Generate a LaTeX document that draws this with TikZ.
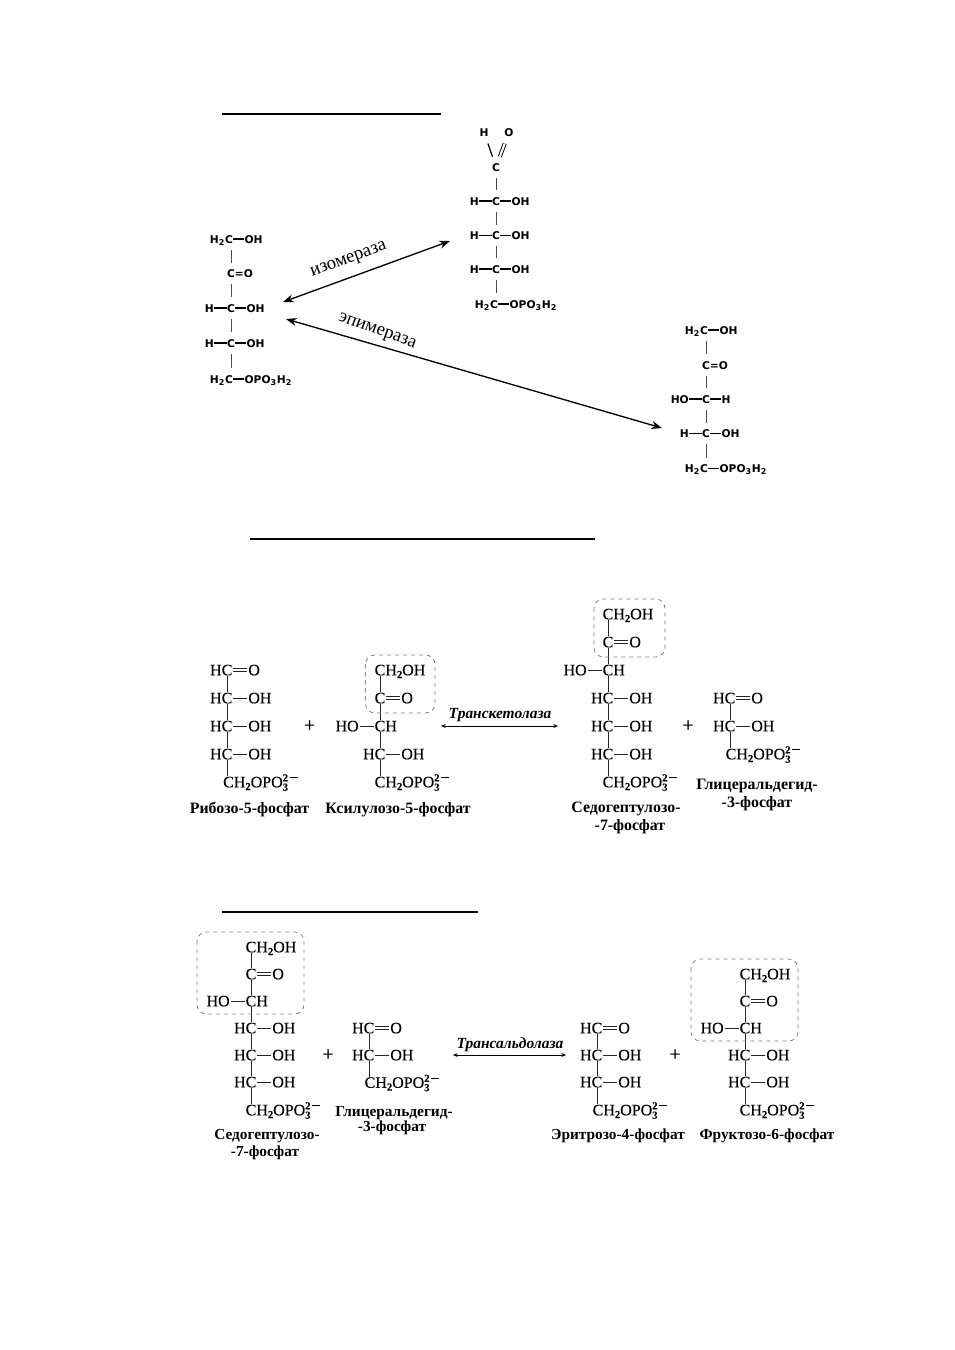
\documentclass[tikz,border=0pt]{standalone}
\usepackage{fontspec}
\setmainfont{Liberation Serif}
\newfontfamily\chemsans{DejaVu Sans}
\newfontfamily\chemserif{Liberation Serif}[FakeBold=0.12]
\usetikzlibrary{positioning,arrows.meta}

\tikzset{
    sanschem/.style={
        node distance=8pt,
        atom/.style={font=\chemsans\bfseries\fontsize{8}{8}\selectfont, inner xsep=.4pt, inner ysep=0pt, outer sep=0pt, text height=6pt, text depth=0pt},
        left atom/.style={xshift=-1.2pt},
        hbond/.style={line width=.8pt},
        vbond/.style={line width=.6pt, black!70, shorten <=8pt, shorten >=8pt},
        dbond/.style={hbond}
    },
    serifchem/.style={
        node distance=10.5pt,
        atom/.style={font=\chemserif\fontsize{12}{12}\selectfont, inner xsep=.75pt, inner ysep=0pt, outer sep=0pt, text height=8pt, text depth=0pt},
        left atom/.style={},
        hbond/.style={line width=.65pt, black!85},
        vbond/.style={line width=.7pt, black!85, shorten <=4.5pt, shorten >=4.5pt},
        dbond/.style={line width=.5pt, black!85, double, double distance=1.4pt}
    },
    enzyme/.style={font=\fontsize{14}{14}\selectfont, inner sep=0pt},
    title line/.style={line width=1.5pt},
    enzyme arrow/.style={{Stealth[length=8pt,width=6pt]}-{Stealth[length=8pt,width=6pt]}, line width=1pt},
    small arrow/.style={{Stealth[length=3.5pt,width=3pt]}-{Stealth[length=3.5pt,width=3pt]}, line width=.7pt},
    step name/.style={font=\bfseries\itshape\fontsize{11.6}{11.6}\selectfont, inner sep=0pt},
    compound/.style={font=\bfseries\fontsize{11.9}{11.9}\selectfont, inner sep=0pt, yshift=-.9pt},
    compound small/.style={compound, font=\bfseries\fontsize{11.5}{11.5}\selectfont},
    plus/.style={font=\chemserif\fontsize{15}{15}\selectfont, inner sep=0pt},
    transfer box/.style={draw=black!50, dashed, line width=.6pt, rounded corners=7pt}
}

% bond to the right or to the left of an atom
\newcommand{\rbond}[3][hbond]{\node[atom, right=of #2] (#2r) {#3}; \draw[#1] (#2) -- (#2r);}
\newcommand{\lbond}[2]{\node[atom, left=of #1, left atom] (#1l) {#2}; \draw[hbond] (#1) -- (#1l);}
% vertical bonds along the column of one atom
\newcommand{\vchain}[2]{\foreach \p/\q in {#2} \draw[vbond] (#1 |- \p) -- (#1 |- \q);}
% small index of the lower formulas
\newcommand{\chsub}[1]{\raisebox{-2pt}{\fontsize{8}{8}\selectfont\bfseries #1}}
% phosphate group of the lower formulas
\newcommand{\opogroup}{C\rlap{H\chsub{2}OPO\rlap{\raisebox{-2.5pt}{\fontsize{8}{8}\selectfont\bfseries 3}}\raisebox{4.5pt}{\fontsize{8}{8}\selectfont\bfseries 2\,\rule[2.4pt]{6pt}{.5pt}}}}

\begin{document}
\begin{tikzpicture}[x=0.75pt, y=-0.75pt]
    \useasboundingbox (0,0) rectangle (954,1350);

    % Title lines
    \coordinate (t1a) at (222,114);
    \coordinate (t1b) at (441,114);
    \coordinate (t2a) at (250,539);
    \coordinate (t2b) at (595,539);
    \coordinate (t3a) at (222,912);
    \coordinate (t3b) at (478,912);
    \draw[title line] (t1a) -- (t1b);
    \draw[title line] (t2a) -- (t2b);
    \draw[title line] (t3a) -- (t3b);

    % Upper formulas
    \begin{scope}[sanschem]
        % Left ketose
        \node[atom] (a1) at (229,239) {\llap{H\textsubscript{2}}C};
        \rbond{a1}{OH}
        \node[atom] (a2) at (231,273.5) {C\rlap{=O}};
        \node[atom] (a3) at (231,308) {C};
        \rbond{a3}{OH}
        \lbond{a3}{H}
        \node[atom] (a4) at (231,343) {C};
        \rbond{a4}{OH}
        \lbond{a4}{H}
        \node[atom] (a5) at (229,379) {\llap{H\textsubscript{2}}C};
        \rbond{a5}{OPO\textsubscript{3}H\textsubscript{2}}
        \vchain{a3}{a1/a2,a2/a3,a3/a4,a4/a5}

        % Upper aldose
        \node[atom] (b0) at (496,167) {C};
        \node[atom] (bh) at (484,132) {H};
        \node[atom] (bo) at (509,132) {O};
        \draw[line width=.9pt, shorten <=6pt, shorten >=5pt] (bh) -- (b0);
        \draw[line width=.7pt, double, double distance=1.6pt, shorten <=6pt, shorten >=5pt] (bo) -- (b0);
        \node[atom] (b1) at (496,201) {C};
        \rbond{b1}{OH}
        \lbond{b1}{H}
        \node[atom] (b2) at (496,235.5) {C};
        \rbond{b2}{OH}
        \lbond{b2}{H}
        \node[atom] (b3) at (496,269) {C};
        \rbond{b3}{OH}
        \lbond{b3}{H}
        \node[atom] (b4) at (494,304) {\llap{H\textsubscript{2}}C};
        \rbond{b4}{OPO\textsubscript{3}H\textsubscript{2}}
        \vchain{b1}{b0/b1,b1/b2,b2/b3,b3/b4}

        % Lower ketose
        \node[atom] (c1) at (704,330) {\llap{H\textsubscript{2}}C};
        \rbond{c1}{OH}
        \node[atom] (c2) at (706,365) {C\rlap{=O}};
        \node[atom] (c3) at (706,399) {C};
        \rbond{c3}{H}
        \lbond{c3}{HO}
        \node[atom] (c4) at (706,433.5) {C};
        \rbond{c4}{OH}
        \lbond{c4}{H}
        \node[atom] (c5) at (704,468.5) {\llap{H\textsubscript{2}}C};
        \rbond{c5}{OPO\textsubscript{3}H\textsubscript{2}}
        \vchain{c4}{c1/c2,c2/c3,c3/c4,c4/c5}
    \end{scope}

    % Enzyme arrows
    \coordinate (iso1) at (283,302);
    \coordinate (iso2) at (450,241);
    \coordinate (epi1) at (286,319);
    \coordinate (epi2) at (662,428);
    \draw[enzyme arrow] (iso1) -- (iso2);
    \draw[enzyme arrow] (epi1) -- (epi2);
    \node[enzyme, rotate=20] (iso) at (349,260.5) {изомераза};
    \node[enzyme, rotate=-20] (epi) at (377,332) {эпимераза};

    % Transketolase reaction
    \begin{scope}[serifchem]
        % Ribose phosphate
        \node[atom] (r1) at (227,670) {\llap{H}C};
        \rbond[dbond]{r1}{O}
        \node[atom] (r2) at (227,698) {\llap{H}C};
        \rbond{r2}{OH}
        \node[atom] (r3) at (227,726) {\llap{H}C};
        \rbond{r3}{OH}
        \node[atom] (r4) at (227,754) {\llap{H}C};
        \rbond{r4}{OH}
        \node[atom] (r5) at (228.5,782) {\opogroup};
        \vchain{r1}{r1/r2,r2/r3,r3/r4,r4/r5}

        % Xylulose phosphate
        \node[atom] (x1) at (380,670) {C\rlap{H\chsub{2}OH}};
        \node[atom] (x2) at (380,698) {C};
        \rbond[dbond]{x2}{O}
        \node[atom] (x3) at (380,726) {C\rlap{H}};
        \lbond{x3}{HO}
        \node[atom] (x4) at (380,754) {\llap{H}C};
        \rbond{x4}{OH}
        \node[atom] (x5) at (380,782) {\opogroup};
        \vchain{x1}{x1/x2,x2/x3,x3/x4,x4/x5}

        % Sedoheptulose phosphate
        \node[atom] (s1) at (608,614) {C\rlap{H\chsub{2}OH}};
        \node[atom] (s2) at (608,642) {C};
        \rbond[dbond]{s2}{O}
        \node[atom] (s3) at (608,670) {C\rlap{H}};
        \lbond{s3}{HO}
        \node[atom] (s4) at (608,698) {\llap{H}C};
        \rbond{s4}{OH}
        \node[atom] (s5) at (608,726) {\llap{H}C};
        \rbond{s5}{OH}
        \node[atom] (s6) at (608,754) {\llap{H}C};
        \rbond{s6}{OH}
        \node[atom] (s7) at (608,782) {\opogroup};
        \vchain{s1}{s1/s2,s2/s3,s3/s4,s4/s5,s5/s6,s6/s7}

        % Glyceraldehyde phosphate
        \node[atom] (g1) at (730,698) {\llap{H}C};
        \rbond[dbond]{g1}{O}
        \node[atom] (g2) at (730,726) {\llap{H}C};
        \rbond{g2}{OH}
        \node[atom] (g3) at (731,754) {\opogroup};
        \vchain{g1}{g1/g2,g2/g3}
    \end{scope}

    \node[plus] (p1) at (309.5,726) {+};
    \node[plus] (p2) at (688,726) {+};
    \coordinate (k1) at (441,726);
    \coordinate (k2) at (558,726);
    \draw[small arrow] (k1) -- (k2);
    \node[step name] (ketolase) at (500,715) {Транскетолаза};
    \node[compound] (rn) at (249.5,808) {Рибозо-5-фосфат};
    \node[compound] (xn) at (398,808) {Ксилулозо-5-фосфат};
    \node[compound] (sn1) at (626,808) {Седогептулозо-};
    \node[compound] (sn2) at (630,825) {-7-фосфат};
    \node[compound] (gn1) at (757,785) {Глицеральдегид-};
    \node[compound] (gn2) at (757,802) {-3-фосфат};
    \draw[transfer box] (365.5,655) rectangle (435,713);
    \draw[transfer box] (594,599) rectangle (665,657);

    % Transaldolase reaction
    \begin{scope}[serifchem]
        % Sedoheptulose phosphate
        \node[atom] (d1) at (251,947) {C\rlap{H\chsub{2}OH}};
        \node[atom] (d2) at (251,974) {C};
        \rbond[dbond]{d2}{O}
        \node[atom] (d3) at (251,1001) {C\rlap{H}};
        \lbond{d3}{HO}
        \node[atom] (d4) at (251,1028) {\llap{H}C};
        \rbond{d4}{OH}
        \node[atom] (d5) at (251,1055) {\llap{H}C};
        \rbond{d5}{OH}
        \node[atom] (d6) at (251,1082) {\llap{H}C};
        \rbond{d6}{OH}
        \node[atom] (d7) at (251,1110) {\opogroup};
        \vchain{d1}{d1/d2,d2/d3,d3/d4,d4/d5,d5/d6,d6/d7}

        % Glyceraldehyde phosphate
        \node[atom] (h1) at (369,1028) {\llap{H}C};
        \rbond[dbond]{h1}{O}
        \node[atom] (h2) at (369,1055) {\llap{H}C};
        \rbond{h2}{OH}
        \node[atom] (h3) at (370,1082.5) {\opogroup};
        \vchain{h1}{h1/h2,h2/h3}

        % Erythrose phosphate
        \node[atom] (e1) at (597,1028) {\llap{H}C};
        \rbond[dbond]{e1}{O}
        \node[atom] (e2) at (597,1055) {\llap{H}C};
        \rbond{e2}{OH}
        \node[atom] (e3) at (597,1082) {\llap{H}C};
        \rbond{e3}{OH}
        \node[atom] (e4) at (598,1110) {\opogroup};
        \vchain{e1}{e1/e2,e2/e3,e3/e4}

        % Fructose phosphate
        \node[atom] (f1) at (745,974) {C\rlap{H\chsub{2}OH}};
        \node[atom] (f2) at (745,1001) {C};
        \rbond[dbond]{f2}{O}
        \node[atom] (f3) at (745,1028) {C\rlap{H}};
        \lbond{f3}{HO}
        \node[atom] (f4) at (745,1055) {\llap{H}C};
        \rbond{f4}{OH}
        \node[atom] (f5) at (745,1082) {\llap{H}C};
        \rbond{f5}{OH}
        \node[atom] (f6) at (745,1110) {\opogroup};
        \vchain{f1}{f1/f2,f2/f3,f3/f4,f4/f5,f5/f6}
    \end{scope}

    \node[plus] (p3) at (328,1055) {+};
    \node[plus] (p4) at (675,1055) {+};
    \coordinate (l1) at (453,1055);
    \coordinate (l2) at (566,1055);
    \draw[small arrow] (l1) -- (l2);
    \node[step name] (aldolase) at (510,1045) {Трансальдолаза};
    \node[compound small] (dn1) at (267,1135) {Седогептулозо-};
    \node[compound small] (dn2) at (265,1152) {-7-фосфат};
    \node[compound small] (hn1) at (394,1112) {Глицеральдегид-};
    \node[compound small] (hn2) at (392,1127) {-3-фосфат};
    \node[compound small] (en) at (618,1135) {Эритрозо-4-фосфат};
    \node[compound small] (fn) at (767,1135) {Фруктозо-6-фосфат};
    \draw[transfer box] (197,932) rectangle (304,1014);
    \draw[transfer box] (691,959) rectangle (798,1041);

\end{tikzpicture}
\end{document}
